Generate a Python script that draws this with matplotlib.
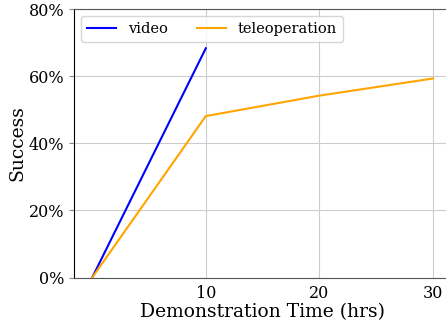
import matplotlib
matplotlib.use("Agg")
import matplotlib.pyplot as plt
from matplotlib.ticker import PercentFormatter

plt.rcParams['font.family'] = 'DejaVu Serif'

# data (success in %)
video_hrs = [0, 10]
video_success = [0, 68.3]
teleop_hrs = [0, 10, 20, 30]
teleop_success = [0, 48.1, 54.2, 59.3]

fig = plt.figure(figsize=(4.46, 3.22), dpi=100)
ax = fig.add_axes([0.166, 0.138, 0.843, 0.834])

ax.plot(video_hrs, video_success, color='blue', label='video')
ax.plot(teleop_hrs, teleop_success, color='orange', label='teleoperation')

ax.set_xlim(-1.6, 31.5)
ax.set_ylim(0, 80)
ax.set_xticks([10, 20, 30])
ax.set_yticks([0, 20, 40, 60, 80])
ax.yaxis.set_major_formatter(PercentFormatter(decimals=0))
ax.tick_params(labelsize=11.5)
ax.tick_params(axis='x', length=0, pad=5)
ax.tick_params(axis='y', color='#888888')
ax.grid(True, color='#cccccc')
for side in ['top', 'bottom']:
    ax.spines[side].set_color('#555555')

ax.set_xlabel('Demonstration Time (hrs)', fontsize=13.5, labelpad=1)
ax.set_ylabel('Success', fontsize=13.5, labelpad=1.5)
ax.legend(loc='upper left', ncol=2, fontsize=10.5)

fig.savefig('out.png', dpi=100)
